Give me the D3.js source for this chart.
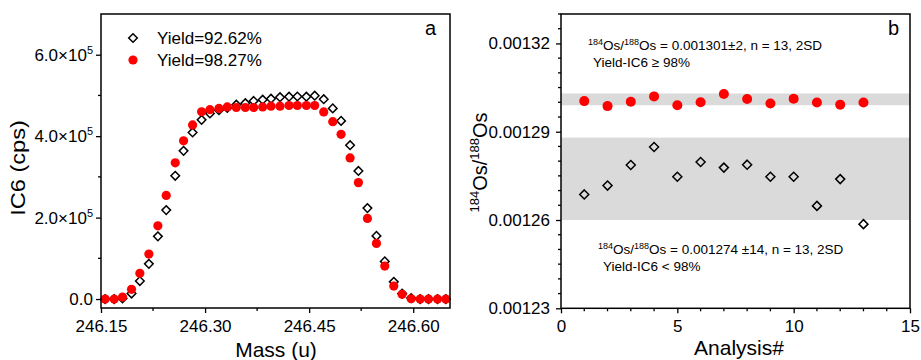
<!DOCTYPE html>
<html>
<head>
<meta charset="utf-8">
<script src="https://cdn.jsdelivr.net/npm/d3@7"></script>
<style>
  html, body { margin: 0; padding: 0; background: #fff; }
  svg text { font-family: "Liberation Sans", Arial, sans-serif; fill: #000; }
</style>
</head>
<body>
<svg id="chart" width="921" height="360"></svg>
<script>
// ---------- Panel a data ----------
const massValues = [246.156,246.169,246.181,246.194,246.206,246.219,246.232,246.244,246.257,246.269,
  246.282,246.295,246.307,246.320,246.332,246.345,246.358,246.370,246.383,246.395,
  246.408,246.421,246.433,246.446,246.458,246.471,246.484,246.496,246.509,246.521,
  246.534,246.547,246.559,246.572,246.584,246.597,246.610,246.622,246.635,246.647];
const yield9262 = [0,0,1500,13500,44200,86400,153900,218400,302600,363900,
  409100,440000,455700,463800,469200,477300,481000,486400,489600,492000,
  495700,496900,497400,496900,499400,490800,468200,437500,377900,314600,
  223300,155100,92500,42200,13500,2500,0,0,0,0];
const yield9827 = [0,0,4900,23800,63100,110400,179900,254500,334500,388500,
  427700,460000,465000,468000,471900,470400,470400,470400,471900,473600,
  473600,475300,475300,475300,475300,459600,435600,404400,346500,285900,
  198000,136700,81000,31900,11500,700,0,0,0,0];
const legendLabels = ["Yield=92.62%", "Yield=98.27%"];
const massTicks = [246.15, 246.30, 246.45, 246.60];
const massMinorTicks = [246.225, 246.375, 246.525];
const icTicks = [0, 200000, 400000, 600000];
const icMinorTicks = [100000, 300000, 500000];

// ---------- Panel b data ----------
const analysisNo = [1,2,3,4,5,6,7,8,9,10,11,12,13];
const ratioHigh = [0.0013004,0.0012987,0.0013002,0.0013020,0.0012990,0.0013000,0.0013028,
  0.0013011,0.0012996,0.0013012,0.0012999,0.0012992,0.0012999];
const ratioHighErr = [0.0000005,0.0000009,0.0000006,0.0000009,0.0000006,0.0000006,0.0000006,
  0.0000006,0.0000005,0.0000009,0.0000005,0.0000006,0.0000005];
const ratioLow = [0.0012687,0.0012717,0.0012787,0.0012848,0.0012747,0.0012797,0.0012778,
  0.0012788,0.0012747,0.0012747,0.0012648,0.0012739,0.0012586];
const bandHigh = [0.001299, 0.001303];
const bandLow = [0.001260, 0.001288];
const analysisTicks = [0, 5, 10, 15];
const analysisMinorTicks = [1,2,3,4,6,7,8,9,11,12,13,14];
const ratioTicks = [0.00123, 0.00126, 0.00129, 0.00132];
const ratioMinorTicks = [0.001235,0.00124,0.001245,0.00125,0.001255,0.001265,0.00127,0.001275,
  0.00128,0.001285,0.001295,0.0013,0.001305,0.00131,0.001315,0.001325,0.00133];

const RED = "#ff0000";
const svg = d3.select("#chart");

function diamondPath(r) { return `M0,${-r}L${r},0L0,${r}L${-r},0Z`; }

function drawAxes(g, x, y, xTicks, xMinor, yTicks, yMinor, xFmt, yFmtFn, yPad) {
  const [x0, x1] = x.range();
  const [yb, yt] = y.range();
  // x axis
  const ax = g.append("g").attr("transform", `translate(0,${yb})`)
    .call(d3.axisBottom(x).tickValues(xTicks).tickSize(5).tickSizeOuter(0).tickPadding(7).tickFormat(xFmt));
  ax.select(".domain").remove();
  ax.selectAll("line").attr("stroke", "#000").attr("stroke-width", 1.3);
  ax.selectAll("text").attr("font-size", 17).attr("fill", "#000");
  g.append("g").selectAll("line").data(xMinor).join("line")
    .attr("x1", d => x(d)).attr("x2", d => x(d)).attr("y1", yb).attr("y2", yb + 3)
    .attr("stroke", "#000").attr("stroke-width", 1.3);
  // y axis
  const ay = g.append("g").attr("transform", `translate(${x0},0)`)
    .call(d3.axisLeft(y).tickValues(yTicks).tickSize(5).tickSizeOuter(0).tickPadding(yPad).tickFormat(""));
  ay.select(".domain").remove();
  ay.selectAll("line").attr("stroke", "#000").attr("stroke-width", 1.3);
  ay.selectAll(".tick text").each(function(d) { yFmtFn(d3.select(this), d); })
    .attr("font-size", 17).attr("fill", "#000");
  g.append("g").selectAll("line").data(yMinor).join("line")
    .attr("x1", x0 - 3).attr("x2", x0).attr("y1", d => y(d)).attr("y2", d => y(d))
    .attr("stroke", "#000").attr("stroke-width", 1.3);
  // frame
  g.append("rect").attr("x", x0).attr("y", yt).attr("width", x1 - x0).attr("height", yb - yt)
    .attr("fill", "none").attr("stroke", "#000").attr("stroke-width", 1.5);
}

function supText(sel, parts, baseSize, supSize) {
  // parts: array of [text, isSup]
  parts.forEach(([t, sup]) => {
    const ts = sel.append("tspan").text(t);
    if (sup) ts.attr("font-size", supSize).attr("dy", -baseSize * 0.38);
    else ts.attr("dy", 0);
  });
  // fix dy returning to baseline
  let prevSup = false;
  sel.selectAll("tspan").each(function(_, i) {
    const isSup = parts[i][1];
    const s = d3.select(this);
    if (isSup && !prevSup) s.attr("dy", -baseSize * 0.38);
    else if (!isSup && prevSup) s.attr("dy", baseSize * 0.38);
    else s.attr("dy", 0);
    prevSup = isSup;
  });
}

// ================= Panel a =================
{
  const g = svg.append("g");
  const x = d3.scaleLinear().domain([246.15, 246.653]).range([101, 450]);
  const y = d3.scaleLinear().domain([-22000, 700000]).range([308, 14]);

  const pts = massValues.map((m, i) => ({ m, a: yield9262[i], b: yield9827[i] }));

  g.append("g").selectAll("path").data(pts).join("path")
    .attr("d", diamondPath(4.3))
    .attr("transform", d => `translate(${x(d.m)},${y(d.a)})`)
    .attr("fill", "none").attr("stroke", "#000").attr("stroke-width", 1.5);
  g.append("g").selectAll("circle").data(pts).join("circle")
    .attr("cx", d => x(d.m)).attr("cy", d => y(d.b)).attr("r", 4.6).attr("fill", RED);

  drawAxes(g, x, y, massTicks, massMinorTicks, icTicks, icMinorTicks,
    d3.format(".2f"),
    (t, d) => {
      t.text(null);
      if (d === 0) { t.append("tspan").text("0.0"); return; }
      t.append("tspan").text((d / 1e5).toFixed(1) + "×10");
      t.append("tspan").text("5").attr("font-size", 11).attr("dy", -7);
    }, 3);

  // legend
  g.append("path").attr("d", diamondPath(4.3)).attr("transform", "translate(133,38)")
    .attr("fill", "none").attr("stroke", "#000").attr("stroke-width", 1.5);
  g.append("circle").attr("cx", 133).attr("cy", 60).attr("r", 4.6).attr("fill", RED);
  g.append("text").attr("x", 157).attr("y", 44).attr("font-size", 17).text(legendLabels[0]);
  g.append("text").attr("x", 157).attr("y", 66).attr("font-size", 17).text(legendLabels[1]);

  g.append("text").attr("x", 425).attr("y", 35).attr("font-size", 20).text("a");

  g.append("text").attr("x", 276).attr("y", 357).attr("text-anchor", "middle")
    .attr("font-size", 21).text("Mass (u)");
  g.append("text").attr("transform", "translate(25,168) rotate(-90) scale(1.18,1)")
    .attr("text-anchor", "middle").attr("font-size", 20).text("IC6 (cps)");
}

// ================= Panel b =================
{
  const g = svg.append("g");
  const x = d3.scaleLinear().domain([0, 15]).range([561, 910]);
  const y = d3.scaleLinear().domain([0.00123, 0.00133]).range([308.3, 14]);

  [bandHigh, bandLow].forEach(b => {
    g.append("rect").attr("x", x(0)).attr("width", x(15) - x(0))
      .attr("y", y(b[1])).attr("height", y(b[0]) - y(b[1])).attr("fill", "#dadada");
  });

  const pts = analysisNo.map((n, i) => ({ n, hi: ratioHigh[i], e: ratioHighErr[i], lo: ratioLow[i] }));

  g.append("g").selectAll("path").data(pts).join("path")
    .attr("d", diamondPath(4.5))
    .attr("transform", d => `translate(${x(d.n)},${y(d.lo)})`)
    .attr("fill", "none").attr("stroke", "#000").attr("stroke-width", 1.5);

  const eb = g.append("g").attr("stroke", RED).attr("stroke-width", 1.2);
  eb.selectAll("line.v").data(pts).join("line").attr("class", "v")
    .attr("x1", d => x(d.n)).attr("x2", d => x(d.n))
    .attr("y1", d => y(d.hi - d.e)).attr("y2", d => y(d.hi + d.e));
  eb.selectAll("line.t").data(pts).join("line").attr("class", "t")
    .attr("x1", d => x(d.n) - 4).attr("x2", d => x(d.n) + 4)
    .attr("y1", d => y(d.hi + d.e)).attr("y2", d => y(d.hi + d.e));
  eb.selectAll("line.b").data(pts).join("line").attr("class", "b")
    .attr("x1", d => x(d.n) - 4).attr("x2", d => x(d.n) + 4)
    .attr("y1", d => y(d.hi - d.e)).attr("y2", d => y(d.hi - d.e));

  g.append("g").selectAll("circle").data(pts).join("circle")
    .attr("cx", d => x(d.n)).attr("cy", d => y(d.hi)).attr("r", 5).attr("fill", RED);

  drawAxes(g, x, y, analysisTicks, analysisMinorTicks, ratioTicks, ratioMinorTicks,
    d3.format("d"),
    (t, d) => { t.text(d3.format(".5f")(d)); }, 6);

  g.append("text").attr("x", 888).attr("y", 35).attr("font-size", 20).text("b");

  const t1 = g.append("text").attr("x", 588).attr("y", 50).attr("font-size", 13.5);
  supText(t1, [["184", true], ["Os/", false], ["188", true], ["Os = 0.001301±2, n = 13, 2SD", false]], 13.5, 9);
  g.append("text").attr("x", 593).attr("y", 67).attr("font-size", 13.5).text("Yield-IC6 ≥ 98%");

  const t2 = g.append("text").attr("x", 598).attr("y", 254).attr("font-size", 13.5);
  supText(t2, [["184", true], ["Os/", false], ["188", true], ["Os = 0.001274 ±14, n = 13, 2SD", false]], 13.5, 9);
  g.append("text").attr("x", 603).attr("y", 271).attr("font-size", 13.5).text("Yield-IC6 < 98%");

  g.append("text").attr("x", 739).attr("y", 355).attr("text-anchor", "middle")
    .attr("font-size", 21).text("Analysis#");

  const yt = g.append("text").attr("transform", "translate(487,162.5) rotate(-90)")
    .attr("text-anchor", "middle").attr("font-size", 20);
  supText(yt, [["184", true], ["Os/", false], ["188", true], ["Os", false]], 20, 13);
}
</script>
</body>
</html>
